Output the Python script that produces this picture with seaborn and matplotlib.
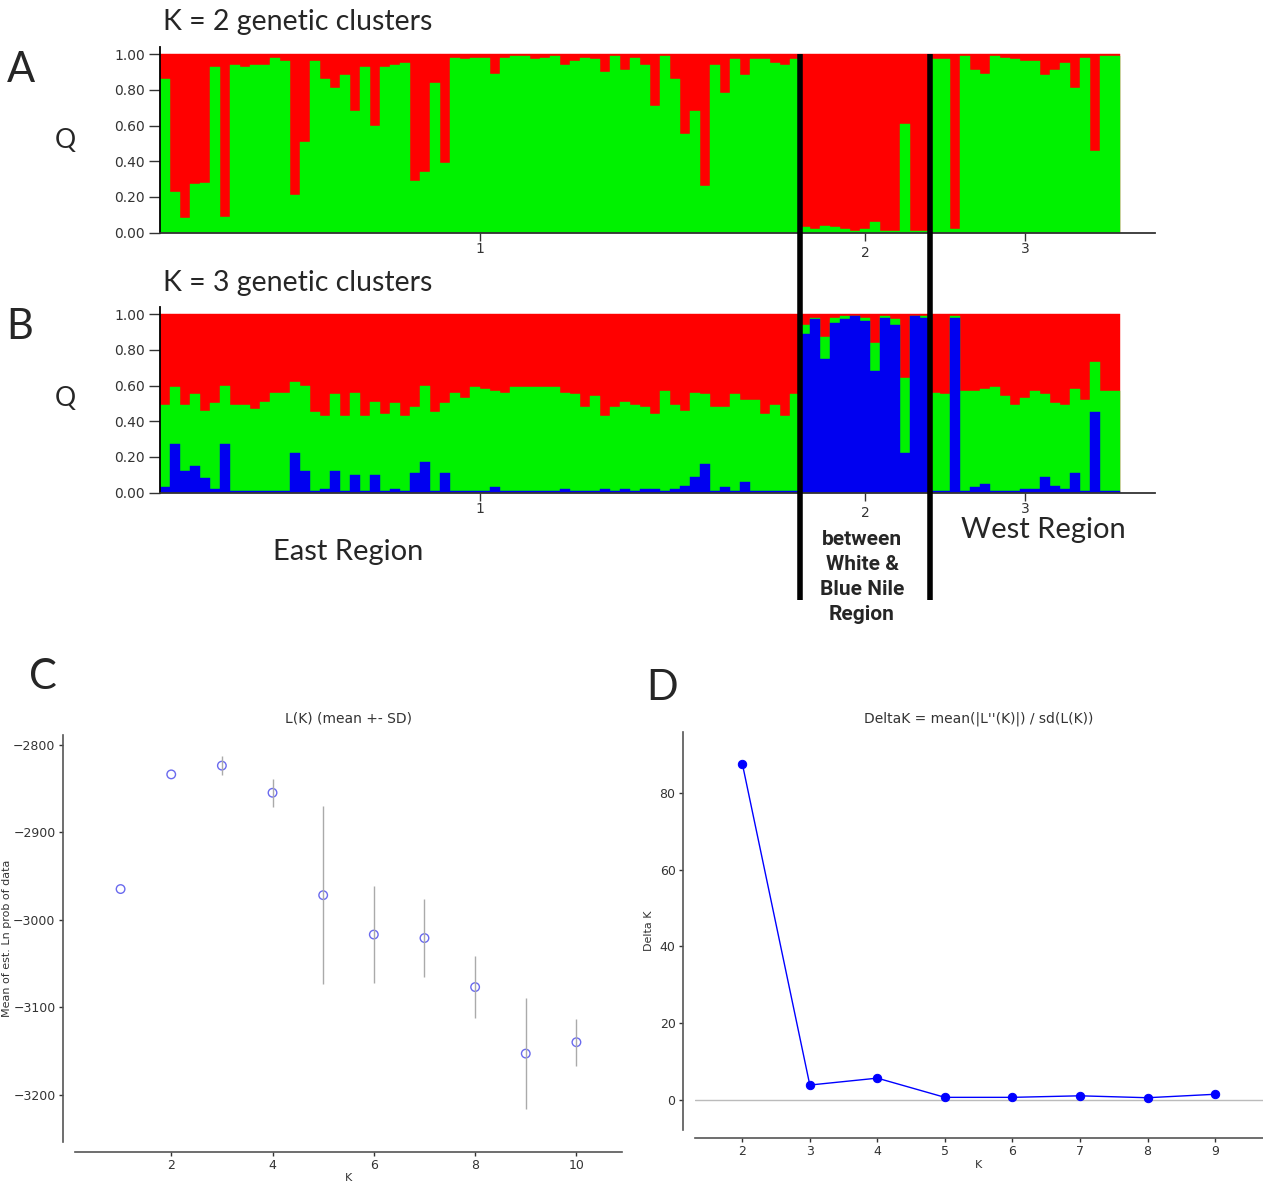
"""
STRUCTURE admixture bar plots (K=2, K=3) plus Evanno L(K) / DeltaK panels.
"""

import numpy as np
import matplotlib.pyplot as plt
from matplotlib.lines import Line2D
import seaborn as sns

sns.set_style('ticks')
plt.rcParams['font.family'] = ['DejaVu Sans']

# ---- membership coefficients (Q), one value per individual ----
# K = 2: proportion in the green cluster (rest is red)
east_k2_green = [0.86, 0.23, 0.08, 0.27, 0.28, 0.93, 0.09, 0.94, 0.93, 0.94, 0.94, 0.98, 0.96, 0.21, 0.51, 0.96,
                 0.86, 0.81, 0.88, 0.68, 0.93, 0.60, 0.93, 0.94, 0.95, 0.29, 0.34, 0.84, 0.39, 0.98, 0.97, 0.98,
                 0.98, 0.89, 0.98, 0.99, 0.99, 0.97, 0.98, 0.99, 0.94, 0.96, 0.98, 0.97, 0.90, 0.99, 0.91, 0.98,
                 0.94, 0.71, 0.99, 0.86, 0.55, 0.68, 0.26, 0.94, 0.78, 0.97, 0.88, 0.97, 0.97, 0.95, 0.94, 0.97]
nile_k2_green = [0.03, 0.02, 0.04, 0.03, 0.02, 0.01, 0.02, 0.06, 0.01, 0.01, 0.61, 0.01, 0.01]
west_k2_green = [0.97, 0.97, 0.02, 0.99, 0.91, 0.89, 0.99, 0.98, 0.97, 0.96, 0.96, 0.88, 0.91, 0.95, 0.81,
                 0.98, 0.46, 0.99, 0.99]

# K = 3: blue and green clusters (rest is red)
east_k3_blue = [0.03, 0.27, 0.12, 0.15, 0.08, 0.02, 0.27, 0.01, 0.01, 0.01, 0.01, 0.01, 0.01, 0.22, 0.12, 0.01,
                0.02, 0.12, 0.01, 0.10, 0.01, 0.10, 0.01, 0.02, 0.01, 0.11, 0.17, 0.01, 0.11, 0.01, 0.01, 0.01,
                0.01, 0.03, 0.01, 0.01, 0.01, 0.01, 0.01, 0.01, 0.02, 0.01, 0.01, 0.01, 0.02, 0.01, 0.02, 0.01,
                0.02, 0.02, 0.01, 0.02, 0.04, 0.09, 0.16, 0.01, 0.03, 0.01, 0.06, 0.01, 0.01, 0.01, 0.01, 0.01]
east_k3_green = [0.46, 0.32, 0.37, 0.40, 0.38, 0.48, 0.33, 0.48, 0.48, 0.46, 0.50, 0.55, 0.55, 0.40, 0.48, 0.44,
                 0.41, 0.43, 0.42, 0.46, 0.42, 0.41, 0.43, 0.48, 0.42, 0.37, 0.43, 0.44, 0.39, 0.55, 0.52, 0.58,
                 0.57, 0.54, 0.55, 0.58, 0.58, 0.58, 0.58, 0.58, 0.54, 0.54, 0.47, 0.53, 0.41, 0.47, 0.49, 0.48,
                 0.46, 0.42, 0.56, 0.47, 0.42, 0.47, 0.39, 0.47, 0.45, 0.54, 0.46, 0.51, 0.43, 0.48, 0.42, 0.54]
nile_k3_blue = [0.89, 0.97, 0.75, 0.95, 0.97, 0.99, 0.96, 0.68, 0.98, 0.94, 0.22, 0.99, 0.98]
nile_k3_green = [0.05, 0.01, 0.12, 0.03, 0.02, 0.00, 0.02, 0.16, 0.01, 0.03, 0.42, 0.00, 0.01]
west_k3_blue = [0.01, 0.01, 0.98, 0.01, 0.03, 0.05, 0.01, 0.01, 0.01, 0.02, 0.02, 0.09, 0.04, 0.02, 0.11,
                0.01, 0.45, 0.01, 0.01]
west_k3_green = [0.55, 0.54, 0.01, 0.56, 0.54, 0.53, 0.58, 0.53, 0.48, 0.51, 0.55, 0.46, 0.46, 0.47, 0.47,
                 0.51, 0.28, 0.56, 0.56]

region_ticks = ['1', '2', '3']

# ---- Evanno method ----
k_vals = [1, 2, 3, 4, 5, 6, 7, 8, 9, 10]
lnp_mean = [-2965, -2834, -2824, -2855, -2972, -3017, -3021, -3077, -3153, -3140]
lnp_sd = [0, 0, 11, 16, 102, 55, 45, 35, 63, 27]

k_delta = [2, 3, 4, 5, 6, 7, 8, 9]
delta_k = [87.6, 3.9, 5.7, 0.7, 0.7, 1.1, 0.6, 1.5]

RED, GREEN, BLUE = '#ff0000', '#00f200', '#0000f0'
TEXT_FONT = ['Lato', 'DejaVu Sans']

W, H = 1263, 1188
fig = plt.figure(figsize=(W / 100, H / 100), dpi=100)


def box(x0, y_top, x1, y_bot):
    # pixel box -> figure fraction rect
    return [x0 / W, 1 - y_bot / H, (x1 - x0) / W, (y_bot - y_top) / H]


group_sizes = [len(east_k2_green), len(nile_k2_green), len(west_k2_green)]
bounds = np.cumsum([0] + group_sizes)
centers = (bounds[:-1] + bounds[1:]) / 2 - 0.5


def draw_structure(ax, layers, colors, top_color):
    idx = np.arange(len(layers[0]))
    # full bar for the last cluster, then cumulative lower clusters on top
    sns.barplot(x=idx, y=np.ones(len(idx)), color=top_color, width=1.0, saturation=1,
                edgecolor=top_color, linewidth=0.3, native_scale=True, ax=ax)
    tops = np.cumsum(layers, axis=0)
    for top, col in zip(tops[::-1], colors[::-1]):
        sns.barplot(x=idx, y=top, color=col, width=1.0, saturation=1,
                    edgecolor=col, linewidth=0.3, native_scale=True, ax=ax)
    ax.set_xlim(-0.5, 99)
    ax.set_ylim(0, 1.04)
    yt = [0, 0.2, 0.4, 0.6, 0.8, 1.0]
    ax.set_yticks(yt)
    ax.set_yticklabels([f'{v:.2f}' for v in yt], fontsize=10, color='#333333')
    ax.set_xticks(centers)
    ax.set_xticklabels([region_ticks[0], '', region_ticks[2]], fontsize=10, color='#333333')
    ax.text(centers[1], -0.07, region_ticks[1], transform=ax.get_xaxis_transform(),
            ha='center', va='top', fontsize=10, color='#333333')
    ax.tick_params(axis='y', length=8, width=1, color='#333333', pad=3)
    ax.tick_params(axis='x', length=6, width=1, color='#333333', pad=1)
    ax.set_xlabel('')
    ax.set_ylabel('')
    for s in ['top', 'right']:
        ax.spines[s].set_visible(False)
    ax.spines['left'].set_color('black')
    ax.spines['bottom'].set_color('#333333')
    ax.spines['left'].set_linewidth(1.3)
    ax.spines['bottom'].set_linewidth(1.3)


axA = fig.add_axes(box(160, 46.9, 1155, 232.7))
draw_structure(axA, [np.concatenate([east_k2_green, nile_k2_green, west_k2_green])], [GREEN], RED)

axB = fig.add_axes(box(160, 306.9, 1155, 492.7))
draw_structure(axB, [np.concatenate([east_k3_blue, nile_k3_blue, west_k3_blue]),
                     np.concatenate([east_k3_green, nile_k3_green, west_k3_green])],
               [BLUE, GREEN], RED)

# black separators running across both bar plots
inv = fig.transFigure.inverted()
for b in bounds[1:3]:
    xf, yf = inv.transform(axA.transData.transform((b - 0.5, 1.0)))
    fig.add_artist(Line2D([xf, xf], [yf, 1 - 600 / H], color='black', lw=4, transform=fig.transFigure,
                          solid_capstyle='butt'))

# panel texts
fig.text(163 / W, 1 - 22 / H, 'K = 2 genetic clusters', fontsize=20.5, family=TEXT_FONT, va='center', ha='left')
fig.text(163 / W, 1 - 283 / H, 'K = 3 genetic clusters', fontsize=20.5, family=TEXT_FONT, va='center', ha='left')
fig.text(21 / W, 1 - 70 / H, 'A', fontsize=30, family=TEXT_FONT, va='center', ha='center')
fig.text(20 / W, 1 - 327 / H, 'B', fontsize=30, family=TEXT_FONT, va='center', ha='center')
fig.text(65 / W, 1 - 140 / H, 'Q', fontsize=19, family=TEXT_FONT, va='center', ha='center')
fig.text(65 / W, 1 - 399 / H, 'Q', fontsize=19, family=TEXT_FONT, va='center', ha='center')
fig.text(348 / W, 1 - 552 / H, 'East Region', fontsize=21, family=TEXT_FONT, va='center', ha='center')
fig.text(1043 / W, 1 - 530 / H, 'West Region', fontsize=21, family=TEXT_FONT, va='center', ha='center')
fig.text(862 / W, 1 - 577 / H, 'between\nWhite &\nBlue Nile\nRegion', fontsize=15, fontweight='bold',
         family=['Roboto', 'DejaVu Sans'], va='center', ha='center', linespacing=1.42)
fig.text(43 / W, 1 - 677 / H, 'C', fontsize=30, family=TEXT_FONT, va='center', ha='center')
fig.text(662 / W, 1 - 688 / H, 'D', fontsize=30, family=TEXT_FONT, va='center', ha='center')


def style_evanno(ax, offset):
    sns.despine(ax=ax, offset=offset)
    for s in ['left', 'bottom']:
        ax.spines[s].set_color('#555555')
        ax.spines[s].set_linewidth(1.2)
    ax.tick_params(labelsize=9, colors='#333333', length=3, width=1, pad=2)


# C: L(K)
axC = fig.add_axes(box(75, 735, 622, 1142))
axC.errorbar(k_vals, lnp_mean, yerr=lnp_sd, fmt='none', ecolor='#aaaaaa', elinewidth=1)
sns.scatterplot(x=k_vals, y=lnp_mean, ax=axC, marker='o', s=38, facecolor='none',
                edgecolor='#6a6aee', linewidth=1)
axC.set_xlim(0.1, 10.9)
axC.set_ylim(-3254, -2789)
axC.set_xticks([2, 4, 6, 8, 10])
axC.set_yticks([-2800, -2900, -3000, -3100, -3200])
axC.set_title('L(K) (mean +- SD)', fontsize=10, color='#333333', pad=9)
axC.set_xlabel('K', fontsize=8, color='#333333', labelpad=1)
axC.set_ylabel('Mean of est. Ln prob of data', fontsize=8, color='#333333', labelpad=1)
style_evanno(axC, {'left': 9, 'bottom': 7})

# D: Delta K
axD = fig.add_axes(box(695, 732, 1263, 1130))
axD.axhline(0, color='#bbbbbb', lw=1)
sns.lineplot(x=k_delta, y=delta_k, ax=axD, color='#0000ff', marker='o', markersize=6,
             markeredgecolor='#0000ff', lw=1)
axD.set_xlim(1.3, 9.71)
axD.set_ylim(-7.8, 95.8)
axD.set_xticks(k_delta)
axD.set_yticks([0, 20, 40, 60, 80])
axD.set_title("DeltaK = mean(|L''(K)|) / sd(L(K))", fontsize=10, color='#333333', pad=7)
axD.set_xlabel('K', fontsize=8, color='#333333', labelpad=1)
axD.set_ylabel('Delta K', fontsize=8, color='#333333')
style_evanno(axD, {'left': 9, 'bottom': 6})

plt.savefig('out.png', dpi=100)
plt.close()
